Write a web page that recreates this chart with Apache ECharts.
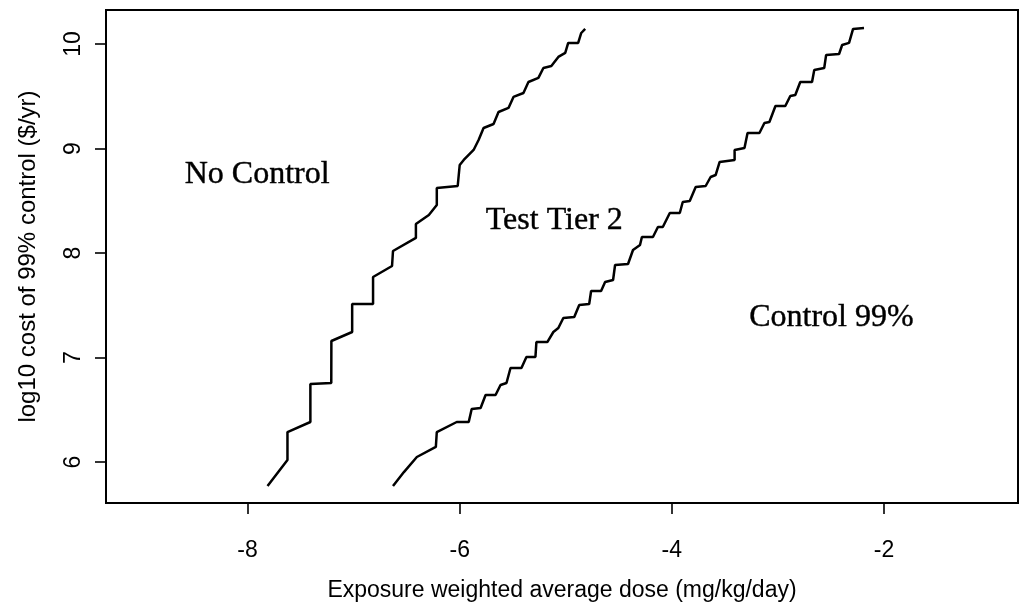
<!DOCTYPE html>
<html>
<head>
<meta charset="utf-8">
<title>Cost of control vs exposure dose</title>
<script src="https://cdn.jsdelivr.net/npm/echarts@6/dist/echarts.min.js"></script>
<style>
  html, body { margin: 0; padding: 0; background: #fff; }
  #chart { width: 1020px; height: 608px; }
</style>
</head>
<body>
<div id="chart"></div>
<script>
// Boundary between "No Control" and "Test Tier 2"
const leftDose = [-7.812, -7.624, -7.624, -7.408, -7.408, -7.211, -7.21, -7.014, -7.014, -6.817,
  -6.817, -6.638, -6.629, -6.413, -6.413, -6.291, -6.216, -6.216, -6.019, -6.0,
  -5.962, -5.869, -5.822, -5.775, -5.681, -5.634, -5.540, -5.493, -5.399, -5.352,
  -5.258, -5.211, -5.136, -5.070, -5.005, -4.977, -4.883, -4.854, -4.817];
const leftCost = [5.770, 6.019, 6.287, 6.383, 6.746, 6.756, 7.158, 7.244, 7.512, 7.512,
  7.770, 7.876, 8.019, 8.144, 8.278, 8.364, 8.459, 8.622, 8.641, 8.842,
  8.890, 8.986, 9.081, 9.196, 9.234, 9.349, 9.388, 9.493, 9.531, 9.636,
  9.675, 9.770, 9.789, 9.876, 9.914, 10.010, 10.010, 10.105, 10.144];

// Boundary between "Test Tier 2" and "Control 99%"
const rightDose = [-6.629, -6.526, -6.404, -6.225, -6.216, -6.028, -5.915, -5.887, -5.803, -5.756,
  -5.662, -5.615, -5.559, -5.521, -5.418, -5.371, -5.286, -5.277, -5.174, -5.117,
  -5.070, -5.023, -4.920, -4.873, -4.779, -4.761, -4.667, -4.629, -4.554, -4.535,
  -4.413, -4.366, -4.300, -4.282, -4.178, -4.131, -4.085, -4.019, -3.925, -3.897,
  -3.831, -3.775, -3.681, -3.634, -3.587, -3.549, -3.408, -3.408, -3.315, -3.286,
  -3.174, -3.127, -3.080, -3.023, -2.930, -2.883, -2.836, -2.789, -2.678, -2.657,
  -2.563, -2.545, -2.423, -2.394, -2.329, -2.291, -2.188];
const rightCost = [5.770, 5.904, 6.048, 6.144, 6.287, 6.383, 6.383, 6.507, 6.517, 6.641,
  6.641, 6.737, 6.756, 6.900, 6.900, 7.005, 7.005, 7.148, 7.148, 7.244,
  7.282, 7.378, 7.388, 7.502, 7.512, 7.636, 7.636, 7.722, 7.742, 7.885,
  7.895, 8.029, 8.077, 8.153, 8.153, 8.249, 8.249, 8.383, 8.383, 8.488,
  8.498, 8.632, 8.641, 8.727, 8.746, 8.871, 8.890, 8.986, 9.005, 9.148,
  9.148, 9.244, 9.254, 9.407, 9.407, 9.502, 9.512, 9.636, 9.636, 9.751,
  9.770, 9.895, 9.904, 9.990, 10.010, 10.144, 10.153];

// Region names and where they sit (in data units)
const regionNames = ['No Control', 'Test Tier 2', 'Control 99%'];
const regionDose = [-7.91, -5.108, -2.495];
const regionCost = [8.75, 8.306, 7.378];

// Axis ticks and labels
const xTicks = [-8, -6, -4, -2];
const yTicks = [6, 7, 8, 9, 10];
const xTitle = 'Exposure weighted average dose (mg/kg/day)';
const yTitle = 'log10 cost of 99% control ($/yr)';

const pairs = (xs, ys) => xs.map((x, i) => [x, ys[i]]);

const sans = '"Liberation Sans", Arial, sans-serif';
const serif = '"Liberation Serif", "Times New Roman", serif';

const chart = echarts.init(document.getElementById('chart'), null, { renderer: 'canvas' });

chart.setOption({
  animation: false,
  backgroundColor: '#ffffff',
  grid: {
    left: 106, top: 10, right: 2, bottom: 105,
    show: true, borderColor: '#000', borderWidth: 2, backgroundColor: 'transparent'
  },
  xAxis: {
    type: 'value',
    min: -9.335, max: -0.736,
    name: xTitle,
    nameLocation: 'middle',
    nameGap: 76,
    nameTextStyle: { color: '#000', fontFamily: sans, fontSize: 23 },
    axisLine: { show: true, onZero: false, lineStyle: { color: '#000', width: 2 } },
    axisTick: { show: true, inside: false, length: 11, customValues: xTicks, lineStyle: { color: '#000', width: 1.6 } },
    axisLabel: { show: true, customValues: xTicks, margin: 36, color: '#000', fontFamily: sans, fontSize: 23 },
    splitLine: { show: false }
  },
  yAxis: {
    type: 'value',
    min: 5.608, max: 10.325,
    name: yTitle,
    nameLocation: 'middle',
    nameGap: 66,
    nameRotate: 90,
    nameTextStyle: { color: '#000', fontFamily: sans, fontSize: 24 },
    axisLine: { show: true, onZero: false, lineStyle: { color: '#000', width: 2 } },
    axisTick: { show: true, inside: false, length: 11, customValues: yTicks, lineStyle: { color: '#000', width: 1.6 } },
    axisLabel: { show: true, customValues: yTicks, rotate: 90, margin: 21, color: '#000', fontFamily: sans, fontSize: 23 },
    splitLine: { show: false }
  },
  series: [
    {
      type: 'line',
      data: pairs(leftDose, leftCost),
      showSymbol: false,
      symbol: 'none',
      lineStyle: { color: '#000', width: 2.5 },
      z: 3
    },
    {
      type: 'line',
      data: pairs(rightDose, rightCost),
      showSymbol: false,
      symbol: 'none',
      lineStyle: { color: '#000', width: 2.5 },
      z: 3
    },
    {
      type: 'scatter',
      symbolSize: 0,
      silent: true,
      data: regionNames.map((n, i) => ({ name: n, value: [regionDose[i], regionCost[i]] })),
      label: {
        show: true,
        position: 'inside',
        formatter: p => p.name,
        color: '#000',
        opacity: 1,
        textBorderColor: '#000',
        textBorderWidth: 0.4,
        fontFamily: serif,
        fontSize: 32
      },
      z: 4
    }
  ]
});
</script>
</body>
</html>
